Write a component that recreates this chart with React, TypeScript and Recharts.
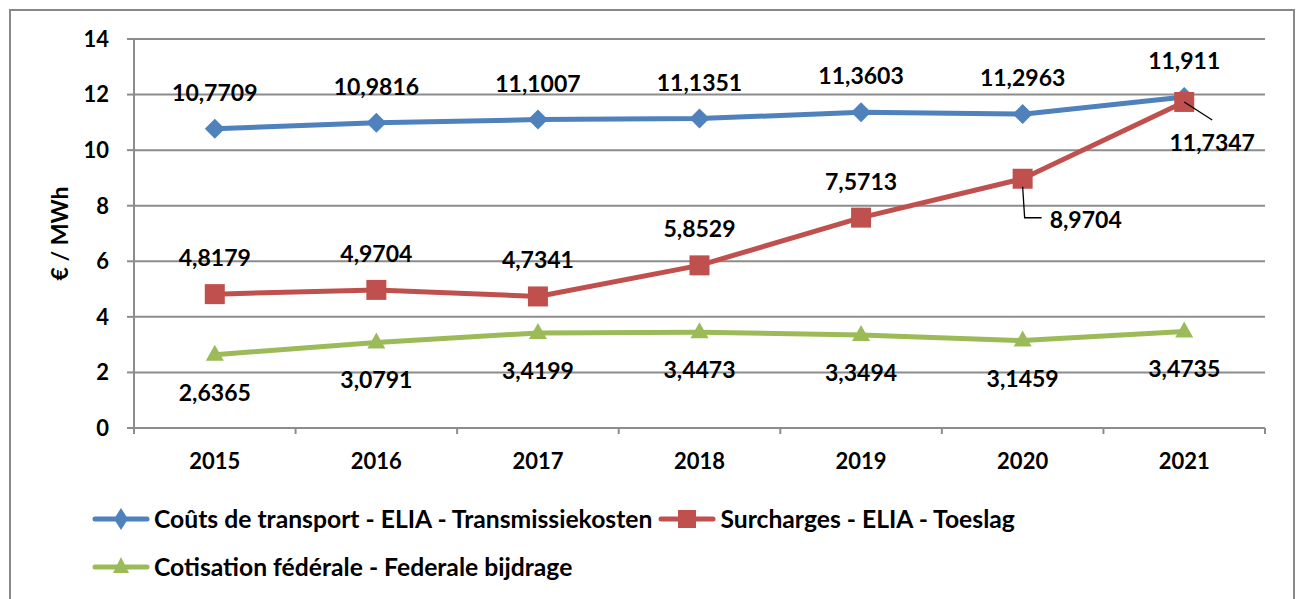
import React from "react";
import {
  LineChart,
  Line,
  XAxis,
  YAxis,
  CartesianGrid,
  LabelList,
  Legend,
  Label,
} from "recharts";

// values as printed on the chart (€ / MWh)
const years = ["2015", "2016", "2017", "2018", "2019", "2020", "2021"];
const transport = [10.7709, 10.9816, 11.1007, 11.1351, 11.3603, 11.2963, 11.911];
const surcharges = [4.8179, 4.9704, 4.7341, 5.8529, 7.5713, 8.9704, 11.7347];
const federal = [2.6365, 3.0791, 3.4199, 3.4473, 3.3494, 3.1459, 3.4735];
const yTicks = [0, 2, 4, 6, 8, 10, 12, 14];

const seriesNames = [
  "Coûts de transport - ELIA - Transmissiekosten",
  "Surcharges - ELIA - Toeslag",
  "Cotisation fédérale - Federale bijdrage",
];

const data = years.map((year, i) => ({
  year,
  transport: transport[i],
  surcharges: surcharges[i],
  federal: federal[i],
}));

const BLUE = "#4f81bd";
const RED = "#c0504d";
const GREEN = "#9bbb59";
const GRID = "#8c8c8c";
const FONT = "Lato, 'Liberation Sans', sans-serif";

const PLOT_W = 1131;
const BAND = PLOT_W / years.length;
const AXIS_Y = 428;

const fmt = (v: number) => String(v).replace(".", ",");

function DiamondDot({ cx, cy }: any) {
  if (cx == null || cy == null) return null;
  const r = 10;
  return (
    <polygon
      points={`${cx},${cy - r} ${cx + r},${cy} ${cx},${cy + r} ${cx - r},${cy}`}
      fill={BLUE}
    />
  );
}

function SquareDot({ cx, cy }: any) {
  if (cx == null || cy == null) return null;
  return <rect x={cx - 10} y={cy - 10} width={20} height={20} fill={RED} />;
}

function TriangleDot({ cx, cy }: any) {
  if (cx == null || cy == null) return null;
  return (
    <polygon
      points={`${cx},${cy - 10} ${cx + 9},${cy + 6} ${cx - 9},${cy + 6}`}
      fill={GREEN}
    />
  );
}

const labelStyle = {
  fontFamily: FONT,
  fontWeight: 700,
  fontSize: 23,
  fill: "#000",
};

function AboveLabel(props: any) {
  const { x, y, value } = props;
  return (
    <text x={x} y={y - 37} textAnchor="middle" dominantBaseline="central" style={labelStyle}>
      {fmt(value)}
    </text>
  );
}

function BelowLabel(props: any) {
  const { x, y, value } = props;
  return (
    <text x={x} y={y + 37} textAnchor="middle" dominantBaseline="central" style={labelStyle}>
      {fmt(value)}
    </text>
  );
}

// red labels: the last two sit below-right with a leader line
function RedLabel(props: any) {
  const { x, y, value, index } = props;
  if (index === 5) {
    return (
      <g>
        <polyline
          points={`${x},${y + 8} ${x + 2},${y + 39} ${x + 19},${y + 39}`}
          stroke="#000"
          strokeWidth={1.3}
          fill="none"
        />
        <text x={x + 27} y={y + 40} textAnchor="start" dominantBaseline="central" style={labelStyle}>
          {fmt(value)}
        </text>
      </g>
    );
  }
  if (index === 6) {
    return (
      <g>
        <line x1={x} y1={y} x2={x + 28} y2={y + 18} stroke="#000" strokeWidth={1.3} />
        <text x={x + 28} y={y + 40} textAnchor="middle" dominantBaseline="central" style={labelStyle}>
          {fmt(value)}
        </text>
      </g>
    );
  }
  return <AboveLabel {...props} />;
}

// year labels, plus the small tick marks that sit between the categories
function YearTick(props: any) {
  const { x, y, payload, index } = props;
  const left = x - BAND / 2;
  return (
    <g>
      <line x1={left} x2={left} y1={AXIS_Y} y2={AXIS_Y + 6} stroke={GRID} strokeWidth={2} />
      {index === years.length - 1 && (
        <line x1={x + BAND / 2} x2={x + BAND / 2} y1={AXIS_Y} y2={AXIS_Y + 6} stroke={GRID} strokeWidth={2} />
      )}
      <text
        x={x}
        y={y}
        dy="0.71em"
        textAnchor="middle"
        style={{ fontFamily: FONT, fontWeight: 700, fontSize: 22, fill: "#000" }}
      >
        {payload.value}
      </text>
    </g>
  );
}

function LegendIcon({ color, kind }: { color: string; kind: number }) {
  return (
    <svg width={58} height={26} style={{ display: "block" }}>
      <line x1={3} x2={55} y1={13} y2={13} stroke={color} strokeWidth={5} strokeLinecap="round" />
      {kind === 0 && <polygon points="29,2 36,13 29,24 22,13" fill={color} />}
      {kind === 1 && <rect x={20} y={4} width={18} height={18} fill={color} />}
      {kind === 2 && <polygon points="29,3 37,19 21,19" fill={color} />}
    </svg>
  );
}

function ChartLegend() {
  const colors = [BLUE, RED, GREEN];
  const item = (i: number) => (
    <div key={i} style={{ display: "flex", alignItems: "center", gap: 4 }}>
      <LegendIcon color={colors[i]} kind={i} />
      <span style={{ whiteSpace: "nowrap" }}>{seriesNames[i]}</span>
    </div>
  );
  return (
    <div
      style={{
        fontFamily: FONT,
        fontWeight: 700,
        fontSize: 24.7,
        color: "#000",
        lineHeight: "26px",
      }}
    >
      <div style={{ display: "flex", gap: 6, height: 26 }}>
        {item(0)}
        {item(1)}
      </div>
      <div style={{ display: "flex", marginTop: 22, height: 26 }}>{item(2)}</div>
    </div>
  );
}

export default function App() {
  return (
    <div style={{ position: "absolute", left: 0, top: 0, width: 1300, height: 599, background: "#fff", overflow: "hidden" }}>
      <div
        style={{
          position: "absolute",
          left: 9,
          top: 9,
          width: 1282,
          height: 640,
          border: "2px solid #888",
        }}
      />
      <LineChart
        width={1300}
        height={599}
        data={data}
        margin={{ top: 39, right: 35, left: 34, bottom: 121 }}
        style={{ position: "absolute", left: 0, top: 0 }}
      >
        <CartesianGrid vertical={false} stroke={GRID} strokeWidth={2} />
        <XAxis
          dataKey="year"
          height={50}
          padding={{ left: BAND / 2, right: BAND / 2 }}
          axisLine={{ stroke: GRID, strokeWidth: 2 }}
          tickLine={false}
          tickSize={0}
          tickMargin={25}
          tick={<YearTick />}
          interval={0}
        />
        <YAxis
          width={100}
          domain={[0, 14]}
          ticks={yTicks}
          interval={0}
          axisLine={{ stroke: GRID, strokeWidth: 2 }}
          tickLine={{ stroke: GRID, strokeWidth: 2 }}
          tickSize={7}
          tickMargin={18}
          tick={{ fontFamily: FONT, fontWeight: 700, fontSize: 22, fill: "#000" }}
        >
          <Label
            value="€ / MWh"
            angle={-90}
            position="insideLeft"
            offset={26}
            style={{ fontFamily: FONT, fontWeight: 700, fontSize: 23, fill: "#000", textAnchor: "middle" }}
          />
        </YAxis>
        <Legend
          layout="horizontal"
          verticalAlign="middle"
          wrapperStyle={{ top: 506, left: 92, width: 1180 }}
          content={() => <ChartLegend />}
        />
        <Line
          dataKey="transport"
          name={seriesNames[0]}
          stroke={BLUE}
          strokeWidth={5}
          dot={<DiamondDot />}
          activeDot={false}
          isAnimationActive={false}
        >
          <LabelList dataKey="transport" content={<AboveLabel />} />
        </Line>
        <Line
          dataKey="surcharges"
          name={seriesNames[1]}
          stroke={RED}
          strokeWidth={5}
          dot={<SquareDot />}
          activeDot={false}
          isAnimationActive={false}
        >
          <LabelList dataKey="surcharges" content={<RedLabel />} />
        </Line>
        <Line
          dataKey="federal"
          name={seriesNames[2]}
          stroke={GREEN}
          strokeWidth={5}
          dot={<TriangleDot />}
          activeDot={false}
          isAnimationActive={false}
        >
          <LabelList dataKey="federal" content={<BelowLabel />} />
        </Line>
      </LineChart>
    </div>
  );
}
